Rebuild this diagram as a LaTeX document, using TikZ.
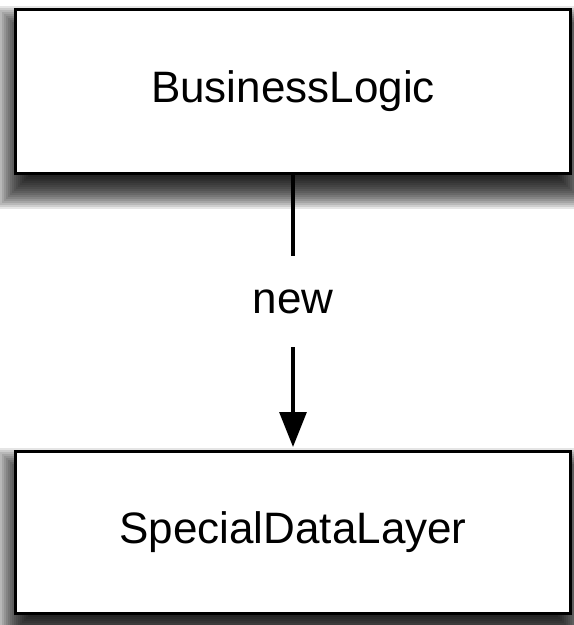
\documentclass[tikz,border=0pt]{standalone}
\usepackage{fontspec}
\setmainfont{Liberation Sans}
\usetikzlibrary{arrows.meta,backgrounds}
\tikzset{
  classbox/.style={draw=black, line width=3pt, fill=white, minimum width=555pt,
    inner sep=0pt, font=\fontsize{44}{52}\selectfont},
  shadowlayer/.style={fill=black, opacity=0.10},
  conn/.style={line width=3.2pt, -{Triangle[width=27pt,length=35pt]}, shorten >=3pt},
  lbl/.style={fill=white, inner sep=0pt, minimum height=91pt, font=\fontsize{44}{52}\selectfont}
}
\begin{document}
\begin{tikzpicture}[x=1pt,y=1pt]
\useasboundingbox (0,0) rectangle (574,-625);
\node[classbox, minimum height=164pt] (bl) at (293,-91.5) {BusinessLogic};
\node[classbox, minimum height=162pt] (sdl) at (293,-532.5) {SpecialDataLayer};
\draw[conn] (bl) -- node[lbl, pos=0.46] (new) {new} (sdl);
\begin{pgfonlayer}{background}
\fill[white] (0,0) rectangle (574,-625);
\foreach \n in {bl,sdl}{
  \foreach \k in {0,...,17}{
    \pgfmathsetmacro\e{18-2*\k}
    \pgfmathsetmacro\lo{-16-\e}
    \pgfmathsetmacro\hi{-16+\e}
    \pgfmathsetmacro\le{-\e}
    \fill[shadowlayer] ([xshift=\le pt, yshift=\lo pt]\n.south west) rectangle ([xshift=\e pt, yshift=\hi pt]\n.north east);
  }
}
\end{pgfonlayer}
\end{tikzpicture}
\end{document}
